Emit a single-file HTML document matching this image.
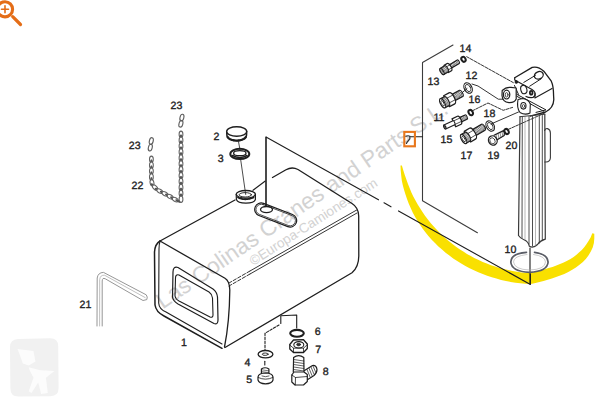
<!DOCTYPE html>
<html><head><meta charset="utf-8">
<style>
html,body{margin:0;padding:0;background:#fff;width:600px;height:408px;overflow:hidden}
svg{display:block}
text{font-family:"Liberation Sans",sans-serif}
</style></head>
<body>
<svg width="600" height="408" viewBox="0 0 600 408">
<!-- watermark logo -->
<path d="M10 347 Q10 339.5 18 339 L50 338.2 Q58 338 58.2 346 L58.6 388 Q58.6 396 50.5 396.2 L18.5 396.6 Q10.5 396.6 10.4 388.5 Z" fill="#f1f1f1"/>
<path d="M17.6 349.1 L33.5 351 L35.4 361.5 L28.7 365.4 L22.9 363.5 Z M28.7 367.3 L40.2 370.2 L54.5 371.1 L45.9 377.8 L47.8 393.1 L41.1 394 L38.2 382.6 L31.5 393 L28.7 391.2 L33.5 377.8 L29.6 370.2 Z" fill="#fcfcfc"/>
<!-- watermark text -->
<text x="0" y="0" font-size="22.7" fill="#d2d2d2" transform="translate(162.8,309.5) rotate(-34.5)">Las Colinas Cranes and Parts S.L.</text>
<text x="0" y="0" font-size="13.6" fill="#d2d2d2" transform="translate(253.3,266) rotate(-32.8)">©Europa-Camiones.com</text>

<!-- yellow crescent -->
<path fill="#f9e000" d="M400.5 165.6 L400.7 170.6 L401.2 175.6 L401.8 180.5 L402.8 185.3 L404.1 190.0 L405.5 194.6 L407.1 199.2 L408.8 203.7 L410.7 208.1 L412.7 212.5 L415.0 216.7 L417.4 220.8 L420.0 224.8 L422.7 228.7 L425.6 232.5 L428.6 236.2 L431.7 239.7 L435.0 243.1 L438.4 246.4 L442.0 249.6 L445.6 252.7 L449.4 255.6 L453.2 258.4 L457.2 261.1 L461.2 263.6 L465.4 265.9 L469.6 268.2 L473.9 270.3 L478.3 272.2 L482.7 274.0 L487.2 275.7 L491.8 277.2 L496.4 278.6 L501.1 279.9 L505.9 280.9 L510.6 281.9 L515.5 282.7 L520.3 283.3 L525.2 283.8 L530.8 284.1 L535.5 283.0 L539.5 282.0 L543.6 280.9 L547.7 279.8 L551.9 278.5 L556.1 277.1 L560.2 275.6 L564.3 273.9 L568.3 271.9 L572.2 269.7 L575.9 267.4 L579.5 264.8 L582.9 261.9 L586.0 258.8 L588.6 255.2 L590.8 251.4 L592.7 247.4 L593.9 243.0 L594.3 238.4 L594.3 233.7 L592.3 233.3 L590.6 237.4 L588.5 241.0 L586.4 244.3 L584.2 247.2 L581.8 249.9 L579.2 252.3 L576.5 254.7 L573.6 256.9 L570.5 258.9 L567.2 260.7 L563.7 262.4 L560.0 264.0 L556.3 265.5 L552.5 266.9 L548.6 268.1 L544.7 269.3 L540.7 270.4 L536.8 271.4 L532.9 272.4 L530.0 273.1 L526.1 272.8 L521.6 272.4 L517.1 271.8 L512.6 271.0 L508.2 270.1 L503.8 269.1 L499.5 267.9 L495.2 266.6 L491.0 265.2 L486.8 263.6 L482.7 261.9 L478.7 260.1 L474.7 258.2 L470.8 256.1 L467.0 253.9 L463.3 251.6 L459.6 249.2 L456.0 246.7 L452.5 244.0 L449.0 241.3 L445.7 238.4 L442.5 235.5 L439.4 232.4 L436.3 229.3 L433.3 226.0 L430.4 222.7 L427.7 219.3 L425.0 215.7 L422.5 212.0 L420.1 208.3 L417.7 204.5 L415.5 200.5 L413.3 196.5 L411.4 192.4 L409.6 188.1 L407.9 183.7 L406.3 179.3 L404.7 174.8 L403.2 170.1 L401.9 165.4 Z"/>

<g fill="none" stroke="#1e1e1e" stroke-width="1.1" stroke-linecap="round" stroke-linejoin="round">
<!-- perspective box -->
<path d="M266 206 L266 137 L378.5 199.8"/>
<path d="M398.5 210.9 L530.4 284.5 L530.4 274" />
<path d="M384 202.8 L391 206.8" />
<!-- panel -->
<path d="M453 45 L422.5 62.5 L422.5 200.7 L477.4 232.7" stroke="#3c3c3c"/>
<path d="M410 136.7 L422.5 136.7"/>

<!-- tank -->
<path d="M160 241 L235 200" stroke-width="1.3"/>
<path d="M253 190.3 L265.3 181"/>
<path d="M272.5 177.5 L286 169.8 Q292 166.3 298 169.5 L352 203.5 Q358.5 207.5 358.7 216 L358.8 256 Q358.7 267 352 272.8 L225 347.5" stroke-width="1.3"/>
<path d="M160 241 L225 278.3 Q229.5 281 229.8 290 Q229.5 322 224.5 347" stroke-width="1.3"/>
<path d="M160 241 Q155 244 154.5 252 L155 305 Q156 312 164 316 L222 348.3" stroke-width="1.5"/>
<path d="M160 241.5 Q159 244 159 249 L158.7 303 Q159 309 166 312 L222 344"/>
<path d="M356.7 210 L250 271 M357 213 L250 274" stroke-width="0.9"/>
<path d="M250 271 L229 283 M250 274 L229 286" stroke-width="0.9" stroke-dasharray="3.5 1.8"/>
<!-- window -->
<path d="M178 267.5 Q173 266 173 272 L172.5 297 Q173 301 178 304 L214 323.5 Q218 325 218 320 L217.5 297 Q217 292 213 289 Z" stroke-width="1.2"/>
<path d="M179 275 Q175.5 274 175.5 278 L175 296 Q175.5 299 179 301 L210 317 Q213 318 213 315 L212.5 298 Q212 294 209 292 Z"/>
<!-- filler slot -->
<rect x="-22.0" y="-6.5" width="44" height="13" rx="6.5" transform="translate(275.7,215) rotate(21)" stroke-width="1.2" />
<rect x="-20.75" y="-5.25" width="41.5" height="10.5" rx="5.25" transform="translate(275.7,215) rotate(21)" stroke-width="0.7" />
<ellipse cx="266.5" cy="209.6" rx="6" ry="3.1" stroke-width="1.3"/>
<path d="M266 137 L266 206.4"/>
<!-- neck ring -->
<path d="M236.2 194.3 L236.4 199.5 A9.6 4.3 0 0 0 255.4 199.5 L255.4 194.3" stroke-width="1.2"/>
<ellipse cx="245.8" cy="194.3" rx="9.6" ry="3.8" stroke-width="1.3"/>
<ellipse cx="245.3" cy="194.8" rx="6.2" ry="2.2" stroke-width="0.9"/>
<path d="M238 197.5 Q245.5 201 253.5 197.5" stroke-width="1.8" stroke-dasharray="2 1"/>
<!-- line cap to neck -->
<path d="M238.5 141.6 L240 149.8 M240.6 159.1 L245.7 194.5" stroke-width="0.8"/>
<!-- cap 2 -->
<path d="M226.7 131.5 L226.9 135.5 A9.8 5.2 0 0 0 246.5 135.5 L246.7 131.5" stroke-width="1.5" fill="#fff"/>
<path d="M227.6 136.8 A9.2 4.4 0 0 0 245.8 136.8" stroke-width="2.2" stroke-dasharray="1.3 0.9"/>
<ellipse cx="236.7" cy="131.5" rx="10" ry="4.8" stroke-width="1.4" fill="#fff"/>
<!-- ring 3 -->
<ellipse cx="239.8" cy="153.9" rx="9.5" ry="5.1" stroke-width="2"/>
<ellipse cx="239.8" cy="153.2" rx="6.2" ry="2.5" stroke-width="1.3"/>
<path d="M232.5 155.5 Q239.8 159.5 247 155.5" stroke-width="1.5"/>
<!-- chains -->
<g fill="#fff">
<ellipse cx="181.0" cy="134.3" rx="3.2" ry="1.9" transform="rotate(90.0 181.0 134.3)" stroke="#606060" stroke-width="1.05"/>
<ellipse cx="181.0" cy="137.2" rx="2.3" ry="0.6" transform="rotate(90.0 181.0 137.2)" stroke="#555" stroke-width="1.2" fill="#888"/>
<ellipse cx="181.0" cy="140.2" rx="3.2" ry="1.9" transform="rotate(90.0 181.0 140.2)" stroke="#606060" stroke-width="1.05"/>
<ellipse cx="181.0" cy="143.2" rx="2.3" ry="0.6" transform="rotate(90.0 181.0 143.2)" stroke="#555" stroke-width="1.2" fill="#888"/>
<ellipse cx="181.0" cy="146.1" rx="3.2" ry="1.9" transform="rotate(90.0 181.0 146.1)" stroke="#606060" stroke-width="1.05"/>
<ellipse cx="181.0" cy="149.1" rx="2.3" ry="0.6" transform="rotate(90.0 181.0 149.1)" stroke="#555" stroke-width="1.2" fill="#888"/>
<ellipse cx="181.0" cy="152.0" rx="3.2" ry="1.9" transform="rotate(90.0 181.0 152.0)" stroke="#606060" stroke-width="1.05"/>
<ellipse cx="181.0" cy="154.9" rx="2.3" ry="0.6" transform="rotate(90.0 181.0 154.9)" stroke="#555" stroke-width="1.2" fill="#888"/>
<ellipse cx="181.0" cy="157.9" rx="3.2" ry="1.9" transform="rotate(90.0 181.0 157.9)" stroke="#606060" stroke-width="1.05"/>
<ellipse cx="181.0" cy="160.8" rx="2.3" ry="0.6" transform="rotate(90.0 181.0 160.8)" stroke="#555" stroke-width="1.2" fill="#888"/>
<ellipse cx="181.0" cy="163.8" rx="3.2" ry="1.9" transform="rotate(90.0 181.0 163.8)" stroke="#606060" stroke-width="1.05"/>
<ellipse cx="181.0" cy="166.8" rx="2.3" ry="0.6" transform="rotate(90.0 181.0 166.8)" stroke="#555" stroke-width="1.2" fill="#888"/>
<ellipse cx="181.0" cy="169.7" rx="3.2" ry="1.9" transform="rotate(90.0 181.0 169.7)" stroke="#606060" stroke-width="1.05"/>
<ellipse cx="181.0" cy="172.7" rx="2.3" ry="0.6" transform="rotate(90.0 181.0 172.7)" stroke="#555" stroke-width="1.2" fill="#888"/>
<ellipse cx="181.0" cy="175.6" rx="3.2" ry="1.9" transform="rotate(90.0 181.0 175.6)" stroke="#606060" stroke-width="1.05"/>
<ellipse cx="181.0" cy="178.6" rx="2.3" ry="0.6" transform="rotate(90.0 181.0 178.6)" stroke="#555" stroke-width="1.2" fill="#888"/>
<ellipse cx="181.0" cy="181.5" rx="3.2" ry="1.9" transform="rotate(90.0 181.0 181.5)" stroke="#606060" stroke-width="1.05"/>
<ellipse cx="181.0" cy="184.4" rx="2.3" ry="0.6" transform="rotate(90.0 181.0 184.4)" stroke="#555" stroke-width="1.2" fill="#888"/>
<ellipse cx="181.0" cy="187.4" rx="3.2" ry="1.9" transform="rotate(90.0 181.0 187.4)" stroke="#606060" stroke-width="1.05"/>
<ellipse cx="181.0" cy="190.3" rx="2.3" ry="0.6" transform="rotate(90.0 181.0 190.3)" stroke="#555" stroke-width="1.2" fill="#888"/>
<ellipse cx="181.0" cy="193.3" rx="3.2" ry="1.9" transform="rotate(90.0 181.0 193.3)" stroke="#606060" stroke-width="1.05"/>
<ellipse cx="181.0" cy="196.2" rx="2.3" ry="0.6" transform="rotate(90.0 181.0 196.2)" stroke="#555" stroke-width="1.2" fill="#888"/>
<ellipse cx="181.0" cy="199.2" rx="3.2" ry="1.9" transform="rotate(90.0 181.0 199.2)" stroke="#606060" stroke-width="1.05"/>
<ellipse cx="151.4" cy="159.3" rx="3.2" ry="1.9" transform="rotate(90.0 151.4 159.3)" stroke="#606060" stroke-width="1.05"/>
<ellipse cx="151.4" cy="162.2" rx="2.3" ry="0.6" transform="rotate(90.0 151.4 162.2)" stroke="#555" stroke-width="1.2" fill="#888"/>
<ellipse cx="151.4" cy="165.2" rx="3.2" ry="1.9" transform="rotate(90.0 151.4 165.2)" stroke="#606060" stroke-width="1.05"/>
<ellipse cx="151.4" cy="168.2" rx="2.3" ry="0.6" transform="rotate(90.0 151.4 168.2)" stroke="#555" stroke-width="1.2" fill="#888"/>
<ellipse cx="151.4" cy="171.1" rx="3.2" ry="1.9" transform="rotate(90.0 151.4 171.1)" stroke="#606060" stroke-width="1.05"/>
<ellipse cx="151.4" cy="174.1" rx="2.3" ry="0.6" transform="rotate(90.0 151.4 174.1)" stroke="#555" stroke-width="1.2" fill="#888"/>
<ellipse cx="151.4" cy="177.0" rx="3.2" ry="1.9" transform="rotate(90.0 151.4 177.0)" stroke="#606060" stroke-width="1.05"/>
<ellipse cx="151.4" cy="179.9" rx="2.3" ry="0.6" transform="rotate(90.0 151.4 179.9)" stroke="#555" stroke-width="1.2" fill="#888"/>
<ellipse cx="152.0" cy="182.8" rx="3.2" ry="1.9" transform="rotate(77.6 152.0 182.8)" stroke="#606060" stroke-width="1.05"/>
<ellipse cx="153.0" cy="185.5" rx="2.3" ry="0.6" transform="rotate(45.0 153.0 185.5)" stroke="#555" stroke-width="1.2" fill="#888"/>
<ellipse cx="155.1" cy="187.6" rx="3.2" ry="1.9" transform="rotate(45.0 155.1 187.6)" stroke="#606060" stroke-width="1.05"/>
<ellipse cx="157.2" cy="189.6" rx="2.3" ry="0.6" transform="rotate(28.8 157.2 189.6)" stroke="#555" stroke-width="1.2" fill="#888"/>
<ellipse cx="159.8" cy="191.1" rx="3.2" ry="1.9" transform="rotate(28.8 159.8 191.1)" stroke="#606060" stroke-width="1.05"/>
<ellipse cx="162.4" cy="192.5" rx="2.3" ry="0.6" transform="rotate(28.8 162.4 192.5)" stroke="#555" stroke-width="1.2" fill="#888"/>
<ellipse cx="165.0" cy="193.9" rx="3.2" ry="1.9" transform="rotate(28.8 165.0 193.9)" stroke="#606060" stroke-width="1.05"/>
<ellipse cx="167.6" cy="195.3" rx="2.3" ry="0.6" transform="rotate(28.8 167.6 195.3)" stroke="#555" stroke-width="1.2" fill="#888"/>
<ellipse cx="170.2" cy="196.7" rx="3.2" ry="1.9" transform="rotate(28.8 170.2 196.7)" stroke="#606060" stroke-width="1.05"/>
<ellipse cx="172.7" cy="198.2" rx="2.3" ry="0.6" transform="rotate(28.8 172.7 198.2)" stroke="#555" stroke-width="1.2" fill="#888"/>
<ellipse cx="175.3" cy="199.6" rx="3.2" ry="1.9" transform="rotate(28.8 175.3 199.6)" stroke="#606060" stroke-width="1.05"/>
<ellipse cx="177.9" cy="201.0" rx="2.3" ry="0.6" transform="rotate(28.8 177.9 201.0)" stroke="#555" stroke-width="1.2" fill="#888"/>
</g>
<g stroke="#5e5e5e" stroke-width="1.1">
<ellipse cx="181.9" cy="117.6" rx="1.9" ry="3.4" transform="rotate(15 181.9 117.6)"/>
<ellipse cx="180.9" cy="123.8" rx="1.9" ry="3.4" transform="rotate(15 180.9 123.8)"/>
<ellipse cx="151.3" cy="141" rx="1.9" ry="3.4" transform="rotate(15 151.3 141)"/>
<ellipse cx="150.3" cy="147.6" rx="1.9" ry="3.4" transform="rotate(15 150.3 147.6)"/>
</g>
<!-- hex key 21 -->
<g stroke="#8a8a8a" stroke-width="0.9">
<path d="M97 326 L97.2 278 Q98 272.5 103.5 272.4 L146.2 294.8 Q148 297 146.8 299.6 L143 300.5 L105.3 278.8 Q102.3 277.3 102.2 281 L102.2 326"/>
<path d="M99.6 326 L99.7 279.5 Q100.3 274.8 104.5 275.2 L145.2 297.6" stroke-width="0.7" stroke="#a5a5a5"/>
</g>
<!-- bottom parts -->
<path d="M280.8 315.8 L280.8 323.5 M280.8 315.8 L296.7 315 L296.7 328"/>
<path d="M279 325 L265 333.3 L265 350" stroke-dasharray="2.5 1.5"/>
<ellipse cx="297" cy="333.3" rx="6.8" ry="3.4" stroke-width="2.1"/>
<!-- nut 7 -->
<path d="M289.8 344.5 L293.5 340 L303.5 339.7 L307.3 344 L307.3 348.5 L303.5 352.5 L293.5 352.5 L289.8 349 Z" stroke-width="1.3" fill="#fff"/>
<path d="M289.8 345 L293.5 348.2 L303.5 348.2 L307.3 344.6 M293.5 348.2 L293.5 352.5 M303.5 348.2 L303.5 352.5" stroke-width="0.8"/>
<ellipse cx="298.8" cy="344.8" rx="5" ry="3.2" stroke-width="1.1"/>
<ellipse cx="298.6" cy="344.6" rx="2" ry="1.3" fill="#333" stroke-width="0.6"/>
<!-- washer 4 -->
<ellipse cx="265.5" cy="354.2" rx="7.4" ry="3.7" stroke-width="1.3"/>
<ellipse cx="265.2" cy="354.2" rx="3" ry="1.2" stroke-width="0.9"/>
<path d="M264.8 361.3 L264.8 365" stroke-width="1.1"/>
<!-- bolt 5 -->
<path d="M261.4 374.5 L261.4 369 Q265 366.5 268.9 369 L268.9 374.5" stroke-width="1.2" fill="#fff"/>
<path d="M261.6 369.8 L268.6 370.8 M261.6 371.6 L268.6 372.6 M261.6 373.4 L268.6 374.4" stroke-width="0.6"/>
<path d="M258 377 Q258.5 373.2 265.5 373 Q272.5 373.2 273 377 L273 380 Q272 383.6 265.5 383.8 Q259 383.6 258 380 Z" stroke-width="1.2" fill="#fff"/>
<path d="M258.3 377.5 Q265.5 381 272.7 377.5" stroke-width="0.8"/>
<path d="M262 376 Q265.5 377.5 269 376" stroke-width="0.7"/>
<!-- fitting 8 -->
<path d="M293.3 372 L293.6 357.5 Q298.6 353.8 303.8 357.5 L304 372" stroke-width="1.2" fill="#fff"/>
<path d="M293.6 359.5 L303.8 361 M293.6 362 L303.8 363.5 M293.6 364.5 L303.8 366 M293.6 367 L303.8 368.5 M293.6 369.5 L303.8 371" stroke-width="0.7"/>
<path d="M304.5 370.5 L312.5 365.5 Q316.5 365 317 369.5 Q317 373 314 375.5 L307 380" stroke-width="1.2" fill="#fff"/>
<path d="M307 369.5 L310 376.8 M309 368.3 L312 375.5 M311 367 L314 374.2 M313 366 L315.8 372.5" stroke-width="0.7"/>
<path d="M291.8 375 L294 372 L304 372 L307.3 374.5 L307.3 381.5 L303.5 385 L295 385 L291.8 382 Z" stroke-width="1.2" fill="#fff"/>
<path d="M291.8 375 L295.5 377.5 L307.3 376.5 M295.5 377.5 L295.3 385" stroke-width="0.8"/>

<!-- right panel fittings -->
<g transform="translate(442,71.5) rotate(-31.0)" stroke-width="1.1" fill="#fff">
<path d="M8.5 -2.0 L19 -2.0 A0.84 2.0 0 0 1 19 2.0 L8.5 2.0 Z"/>
<path d="M9.8 -2.0 A0.84 2.0 0 0 1 9.8 2.0" stroke-width="0.55" fill="none"/>
<path d="M11.1 -2.0 A0.84 2.0 0 0 1 11.1 2.0" stroke-width="0.55" fill="none"/>
<path d="M12.4 -2.0 A0.84 2.0 0 0 1 12.4 2.0" stroke-width="0.55" fill="none"/>
<path d="M13.7 -2.0 A0.84 2.0 0 0 1 13.7 2.0" stroke-width="0.55" fill="none"/>
<path d="M15.0 -2.0 A0.84 2.0 0 0 1 15.0 2.0" stroke-width="0.55" fill="none"/>
<path d="M16.3 -2.0 A0.84 2.0 0 0 1 16.3 2.0" stroke-width="0.55" fill="none"/>
<path d="M17.6 -2.0 A0.84 2.0 0 0 1 17.6 2.0" stroke-width="0.55" fill="none"/>
<path d="M5 -4.2 L8.5 -4.2 A1.76 4.2 0 0 1 8.5 4.2 L5 4.2 Z" stroke-width="1.3"/>
<path d="M5.3 -1.68 L10.09 -1.68 M5.3 1.89 L10.09 1.89" stroke-width="0.7" fill="none"/>
<path d="M0 -3.6 L5 -3.6 A1.51 3.6 0 0 1 5 3.6 L0 3.6 Z"/>
<path d="M1.3 -3.6 A1.51 3.6 0 0 1 1.3 3.6" stroke-width="0.55" fill="none"/>
<path d="M2.6 -3.6 A1.51 3.6 0 0 1 2.6 3.6" stroke-width="0.55" fill="none"/>
<path d="M3.9 -3.6 A1.51 3.6 0 0 1 3.9 3.6" stroke-width="0.55" fill="none"/>
<ellipse cx="0" cy="0" rx="1.51" ry="3.6" stroke-width="1.2000000000000002"/>
<ellipse cx="0" cy="0" rx="0.83" ry="2.16" stroke-width="0.7"/>
</g>
<ellipse cx="463.5" cy="59.3" rx="2" ry="2.6" stroke-width="2" transform="rotate(-30 463.5 59.3)"/>
<g transform="translate(442.6,103.3) rotate(-28.0)" stroke-width="1.1" fill="#fff">
<path d="M10.5 -3.5 L21 -3.5 A1.47 3.5 0 0 1 21 3.5 L10.5 3.5 Z"/>
<path d="M11.8 -3.5 A1.47 3.5 0 0 1 11.8 3.5" stroke-width="0.55" fill="none"/>
<path d="M13.1 -3.5 A1.47 3.5 0 0 1 13.1 3.5" stroke-width="0.55" fill="none"/>
<path d="M14.4 -3.5 A1.47 3.5 0 0 1 14.4 3.5" stroke-width="0.55" fill="none"/>
<path d="M15.7 -3.5 A1.47 3.5 0 0 1 15.7 3.5" stroke-width="0.55" fill="none"/>
<path d="M17.0 -3.5 A1.47 3.5 0 0 1 17.0 3.5" stroke-width="0.55" fill="none"/>
<path d="M18.3 -3.5 A1.47 3.5 0 0 1 18.3 3.5" stroke-width="0.55" fill="none"/>
<path d="M19.6 -3.5 A1.47 3.5 0 0 1 19.6 3.5" stroke-width="0.55" fill="none"/>
<path d="M4.5 -6.2 L10.5 -6.2 A2.60 6.2 0 0 1 10.5 6.2 L4.5 6.2 Z" stroke-width="1.3"/>
<path d="M4.8 -2.48 L12.84 -2.48 M4.8 2.79 L12.84 2.79" stroke-width="0.7" fill="none"/>
<path d="M0 -5.1 L4.5 -5.1 A2.14 5.1 0 0 1 4.5 5.1 L0 5.1 Z"/>
<path d="M1.3 -5.1 A2.14 5.1 0 0 1 1.3 5.1" stroke-width="0.55" fill="none"/>
<path d="M2.6 -5.1 A2.14 5.1 0 0 1 2.6 5.1" stroke-width="0.55" fill="none"/>
<path d="M3.9 -5.1 A2.14 5.1 0 0 1 3.9 5.1" stroke-width="0.55" fill="none"/>
<ellipse cx="0" cy="0" rx="2.14" ry="5.1" stroke-width="1.2000000000000002"/>
<ellipse cx="0" cy="0" rx="1.18" ry="3.06" stroke-width="0.7"/>
</g>
<path d="M461.5 93.2 L467 88.6" stroke-width="0.9"/>
<ellipse cx="468.1" cy="88" rx="3.8" ry="5.6" stroke-width="1.1" transform="rotate(-28 468.1 88)"/>
<ellipse cx="468.1" cy="88" rx="2.3" ry="3.9" stroke-width="0.8" transform="rotate(-28 468.1 88)"/>
<g transform="translate(444.8,127) rotate(-25.0)" stroke-width="1.1" fill="#fff">
<path d="M16 -2.4 L23.5 -2.4 A1.01 2.4 0 0 1 23.5 2.4 L16 2.4 Z"/>
<path d="M17.3 -2.4 A1.01 2.4 0 0 1 17.3 2.4" stroke-width="0.55" fill="none"/>
<path d="M18.6 -2.4 A1.01 2.4 0 0 1 18.6 2.4" stroke-width="0.55" fill="none"/>
<path d="M19.9 -2.4 A1.01 2.4 0 0 1 19.9 2.4" stroke-width="0.55" fill="none"/>
<path d="M21.2 -2.4 A1.01 2.4 0 0 1 21.2 2.4" stroke-width="0.55" fill="none"/>
<path d="M22.5 -2.4 A1.01 2.4 0 0 1 22.5 2.4" stroke-width="0.55" fill="none"/>
<path d="M10 -4.4 L16 -4.4 A1.85 4.4 0 0 1 16 4.4 L10 4.4 Z" stroke-width="1.3"/>
<path d="M10.3 -1.76 L17.66 -1.76 M10.3 1.98 L17.66 1.98" stroke-width="0.7" fill="none"/>
<path d="M0 -2.1 L10 -2.1 A0.88 2.1 0 0 1 10 2.1 L0 2.1 Z"/>
<ellipse cx="0" cy="0" rx="0.88" ry="2.1" stroke-width="1.2000000000000002"/>
<ellipse cx="0" cy="0" rx="0.49" ry="1.26" stroke-width="0.7"/>
</g>
<ellipse cx="470.7" cy="112.6" rx="2" ry="2.8" stroke-width="2" transform="rotate(-30 470.7 112.6)"/>
<g transform="translate(463.6,139) rotate(-31.0)" stroke-width="1.1" fill="#fff">
<path d="M10.5 -3.5 L23 -3.5 A1.47 3.5 0 0 1 23 3.5 L10.5 3.5 Z"/>
<path d="M11.8 -3.5 A1.47 3.5 0 0 1 11.8 3.5" stroke-width="0.55" fill="none"/>
<path d="M13.1 -3.5 A1.47 3.5 0 0 1 13.1 3.5" stroke-width="0.55" fill="none"/>
<path d="M14.4 -3.5 A1.47 3.5 0 0 1 14.4 3.5" stroke-width="0.55" fill="none"/>
<path d="M15.7 -3.5 A1.47 3.5 0 0 1 15.7 3.5" stroke-width="0.55" fill="none"/>
<path d="M17.0 -3.5 A1.47 3.5 0 0 1 17.0 3.5" stroke-width="0.55" fill="none"/>
<path d="M18.3 -3.5 A1.47 3.5 0 0 1 18.3 3.5" stroke-width="0.55" fill="none"/>
<path d="M19.6 -3.5 A1.47 3.5 0 0 1 19.6 3.5" stroke-width="0.55" fill="none"/>
<path d="M20.9 -3.5 A1.47 3.5 0 0 1 20.9 3.5" stroke-width="0.55" fill="none"/>
<path d="M22.2 -3.5 A1.47 3.5 0 0 1 22.2 3.5" stroke-width="0.55" fill="none"/>
<path d="M4.5 -6.2 L10.5 -6.2 A2.60 6.2 0 0 1 10.5 6.2 L4.5 6.2 Z" stroke-width="1.3"/>
<path d="M4.8 -2.48 L12.84 -2.48 M4.8 2.79 L12.84 2.79" stroke-width="0.7" fill="none"/>
<path d="M0 -5.1 L4.5 -5.1 A2.14 5.1 0 0 1 4.5 5.1 L0 5.1 Z"/>
<path d="M1.3 -5.1 A2.14 5.1 0 0 1 1.3 5.1" stroke-width="0.55" fill="none"/>
<path d="M2.6 -5.1 A2.14 5.1 0 0 1 2.6 5.1" stroke-width="0.55" fill="none"/>
<path d="M3.9 -5.1 A2.14 5.1 0 0 1 3.9 5.1" stroke-width="0.55" fill="none"/>
<ellipse cx="0" cy="0" rx="2.14" ry="5.1" stroke-width="1.2000000000000002"/>
<ellipse cx="0" cy="0" rx="1.18" ry="3.06" stroke-width="0.7"/>
</g>
<ellipse cx="490.2" cy="126" rx="3.8" ry="5.6" stroke-width="1.1" transform="rotate(-30 490.2 126)"/>
<ellipse cx="490.2" cy="126" rx="2.3" ry="3.9" stroke-width="0.8" transform="rotate(-30 490.2 126)"/>
<path d="M494 135.2 L503.5 130.6 Q505 133 504.2 135.5 L496 140.5" stroke-width="1.2" fill="#fff"/>
<path d="M496 134.2 L496.8 139.6 M498 133.2 L499 138.6 M500 132.3 L501 137.6 M502 131.3 L502.8 136.5" stroke-width="0.5"/>
<ellipse cx="492.8" cy="140.5" rx="4.2" ry="4.8" stroke-width="1.3" fill="#fff" transform="rotate(-30 492.8 140.5)"/>
<ellipse cx="492.5" cy="140.8" rx="2.5" ry="3.2" stroke-width="0.7" transform="rotate(-30 492.5 140.8)"/>
<ellipse cx="506.6" cy="131.5" rx="1.9" ry="2.7" stroke-width="2" transform="rotate(-30 506.6 131.5)"/>

<!-- leader lines -->
<path d="M466.7 56.7 L514 83" stroke-dasharray="3 1.2" stroke-width="0.9"/>
<path d="M472 84 L478 86 L498.3 99.2 L506 99.2" stroke-width="0.9"/>
<path d="M472 111 L488 103 L503.2 110.3 L512.6 107.4" stroke-dasharray="3 1.2" stroke-width="0.9"/>
<path d="M491 124 L518.5 112" stroke-width="0.9"/>
<path d="M508 129.5 L544.4 113.2" stroke-dasharray="3 1.2" stroke-width="0.9"/>

<!-- sender head -->
<path d="M514.7 77.8 L532.2 67.4 Q538 65.8 543.8 71.2 L551.3 81.2 Q553.6 86 553.6 96 L553.8 99.5 Q553.5 108 545.6 112 L530.3 116.2" stroke-width="1.3"/>
<path d="M523.8 82.4 L535.5 75.3 M529.7 86.2 L541.3 78.7" stroke-width="1"/>
<ellipse cx="538.8" cy="75.3" rx="4.6" ry="3.6" stroke-width="1.3" transform="rotate(-25 538.8 75.3)"/>
<path d="M534.9 93.6 L534.9 97.9 L552 88.4" stroke-width="1.1"/>
<path d="M514.7 77.8 L514.7 80 L532 89.5 Q536 92 535 95.5 L533 97.5 Q529 98 526 96.5" stroke-width="1.2"/>
<ellipse cx="523.8" cy="89.5" rx="3" ry="4.3" stroke-width="1.1" transform="rotate(-15 523.8 89.5)"/>
<ellipse cx="531.2" cy="92.8" rx="1.3" ry="1.9" stroke-width="1.8"/>
<circle cx="516.3" cy="82" r="1.2" fill="#1e1e1e"/>
<path d="M516.9 94.4 L546 109.9 L536 112.4 M516.9 96.3 L543.5 111.2" stroke-width="1"/>
<path d="M514.5 85.5 L518.5 94.4" stroke-width="1"/>
<path d="M518 99.5 Q516.5 108 520 112.5 Q525 115.5 530 113 L530.3 104 Q528.5 99.5 523 98.5 Z" stroke-width="1.1" fill="#fff"/>
<ellipse cx="523.4" cy="105.8" rx="2.6" ry="3.3" stroke-width="1.1"/>
<ellipse cx="523.6" cy="106" rx="1.2" ry="1.6" stroke-width="0.7"/>
<path d="M502.2 90.5 Q506 86.8 511 87.4 L516.2 88 L516.2 99 Q514.5 102.8 509 102.6 Q502.5 102 502 95.5 Z" stroke-width="1.2" fill="#fff"/>
<ellipse cx="506.6" cy="94.6" rx="3.2" ry="4.4" stroke-width="1.2"/>
<ellipse cx="506.6" cy="94.8" rx="1.4" ry="2.2" stroke-width="0.8"/>
<!-- tube -->
<g stroke="#3a3a3a">
<path d="M520 116.5 L518.5 235.5 Q520.5 238.5 524 239.8 Q528.3 241.5 529.4 246.3 Q533.5 248.5 537.5 244.5 Q540.5 240.5 545.3 239.2 L544.8 114.5" stroke-width="1.2"/>
<path d="M522.3 117 L522 238.5 M529 116.5 L529 244 M532.5 116.5 L532.5 246 M539.3 116 L539.3 243 M542.3 115.5 L542.3 240.5" stroke-width="0.9"/>
<path d="M525 117 L525 239.5 M535.5 116.5 L535.5 246.5" stroke-width="0.6" stroke="#888"/>
<path d="M544.6 130.5 Q545.5 128.2 547.5 128.6 Q550.4 129.5 550.4 133 L550.4 158 Q550 161.8 546 162 L544.8 162" stroke-width="1.1"/>
<path d="M520 116.7 L545 114.2" stroke-width="1"/>
</g>
<path d="M530 248 L530 284"/>
<!-- ring 10 -->
<path d="M526.5 252.3 Q511 253.5 510.8 262 Q511.5 271.5 529.5 272.3 Q547.5 271.5 548.1 262 Q547.5 254 534.5 252.3" stroke-width="1.7" stroke="#5a5d66"/>
<path d="M527 254.5 Q513.5 256 513.5 262 Q514.5 269.5 529.5 270 Q545 269.5 545.5 262 Q545 256 533.5 254.5" stroke-width="0.6" stroke="#aaa"/>
</g>
<!-- zoom icon -->
<g stroke="#e46d17" fill="none" stroke-linecap="round">
<circle cx="5" cy="9.3" r="7.6" stroke-width="3.1"/>
<path d="M1.5 9.3 L8.5 9.3 M5 5.8 L5 12.8" stroke-width="1.6"/>
<path d="M12.7 16.7 L20.5 24.5" stroke-width="3.2"/>
</g>
<!-- orange box -->
<rect x="404.3" y="131.9" width="10.6" height="14.4" fill="none" stroke="#e8771c" stroke-width="2.1"/>
<path d="M405.5 136.5 Q408 135.2 409.8 136.2 Q410.6 138.5 408.5 140.5 Q406.5 142.5 406.3 144" fill="none" stroke="#333" stroke-width="1.2"/>

<!-- numbers -->
<g class="nums" fill="#222" font-size="10.6" stroke="#222" stroke-width="0.35" style="text-rendering:geometricPrecision">
<text x="170.5" y="108.7">23</text>
<text x="128.8" y="149">23</text>
<text x="131.5" y="189">22</text>
<text x="213.5" y="139.7">2</text>
<text x="217.8" y="161.7">3</text>
<text x="79.5" y="308">21</text>
<text x="181" y="345.8">1</text>
<text x="244.5" y="365.8">4</text>
<text x="246.2" y="382.5">5</text>
<text x="314.8" y="335">6</text>
<text x="315.3" y="352.5">7</text>
<text x="322.8" y="375">8</text>
<text x="459.5" y="51.7">14</text>
<text x="427.5" y="85">13</text>
<text x="465.5" y="79">12</text>
<text x="468.5" y="103.3">16</text>
<text x="433.5" y="121">11</text>
<text x="483.5" y="116.7">18</text>
<text x="440.5" y="142.5">15</text>
<text x="460.5" y="159">17</text>
<text x="487.5" y="159">19</text>
<text x="505.5" y="149">20</text>
<text x="504.5" y="252.5">10</text>
</g>
</svg>
</body></html>
